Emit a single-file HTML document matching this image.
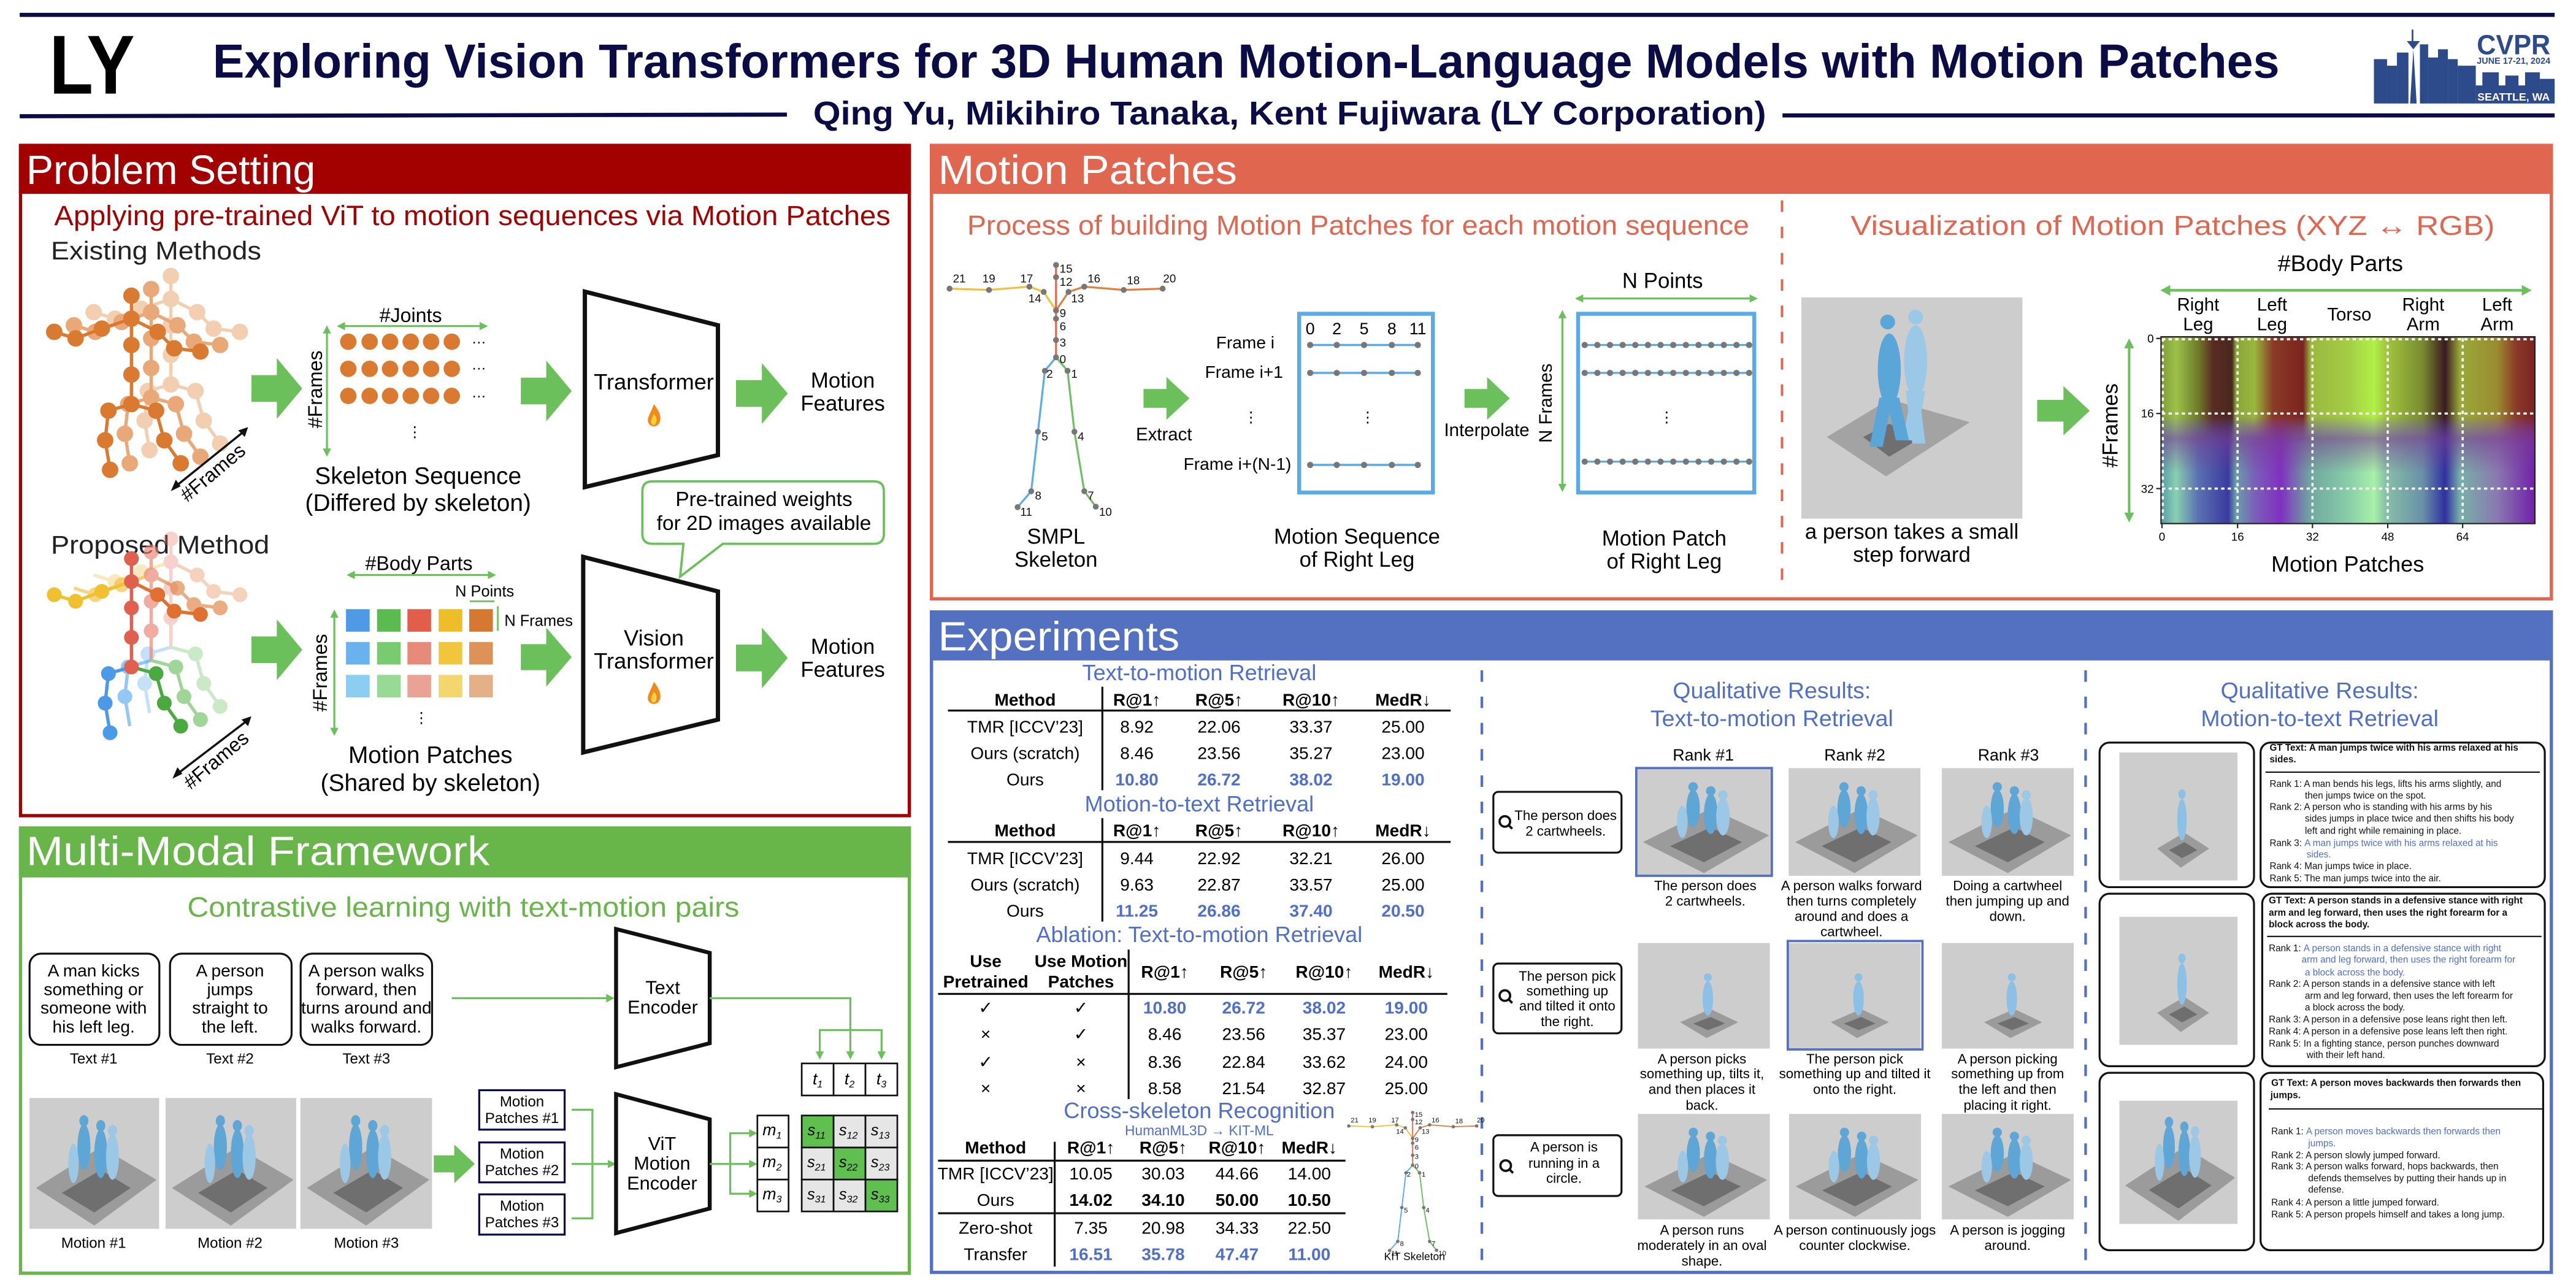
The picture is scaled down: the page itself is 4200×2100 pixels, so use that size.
<!DOCTYPE html>
<html><head><meta charset="utf-8"><style>html,body{margin:0;padding:0;background:#fff}svg{display:block}text{font-family:"Liberation Sans",sans-serif}</style></head><body>
<svg xmlns="http://www.w3.org/2000/svg" width="4200" height="2100" viewBox="0 0 1568 784">
<defs>
<symbol id="ga" viewBox="0 0 100 100" preserveAspectRatio="none"><polygon points="0,28 50,28 50,0 100,50 50,100 50,72 0,72" fill="#6cc05c"/></symbol>
<symbol id="scene" viewBox="0 0 100 80" preserveAspectRatio="none">
<rect width="100" height="80" fill="#cdcdcd"/>
<polygon points="5,55 55,30 98,50 50,78" fill="#9b9b9b"/>
<polygon points="25,58 55,44 78,55 50,70" fill="#6f6f6f"/>
<g fill="#5ea6d6"><ellipse cx="42" cy="30" rx="5" ry="14"/><circle cx="42" cy="14" r="3.5"/><ellipse cx="55" cy="34" rx="5" ry="15"/><circle cx="55" cy="17" r="3.5"/></g>
<g fill="#9cc8e6"><ellipse cx="64" cy="36" rx="5" ry="14"/><circle cx="64" cy="20" r="3.5"/><ellipse cx="34" cy="40" rx="4" ry="12"/></g>
</symbol>
<symbol id="scene2" viewBox="0 0 100 80" preserveAspectRatio="none">
<rect width="100" height="80" fill="#cdcdcd"/>
<polygon points="32,60 55,50 76,60 52,72" fill="#9b9b9b"/>
<polygon points="42,61 55,56 66,61 53,66" fill="#6f6f6f"/>
<g fill="#8cc0e4"><ellipse cx="53" cy="42" rx="4" ry="13"/><circle cx="53" cy="26" r="3"/></g>
</symbol>
<linearGradient id="hTop" x1="0" x2="1" y1="0" y2="0">
<stop offset="0" stop-color="#7f9a3a"/><stop offset=".04" stop-color="#9cc24a"/><stop offset=".1" stop-color="#6f7a2a"/><stop offset=".14" stop-color="#5a2a22"/><stop offset=".19" stop-color="#4a2820"/><stop offset=".2" stop-color="#8aa43a"/><stop offset=".25" stop-color="#9ab83e"/><stop offset=".3" stop-color="#8a3a26"/><stop offset=".38" stop-color="#7a2420"/><stop offset=".4" stop-color="#9ab840"/><stop offset=".5" stop-color="#a4cc44"/><stop offset=".57" stop-color="#b0f048"/><stop offset=".6" stop-color="#a2c840"/><stop offset=".7" stop-color="#7a8a30"/><stop offset=".76" stop-color="#3a1a22"/><stop offset=".8" stop-color="#9aaa38"/><stop offset=".9" stop-color="#9a8a30"/><stop offset=".95" stop-color="#8a3a28"/><stop offset="1" stop-color="#7a2222"/>
</linearGradient>
<linearGradient id="hBot" x1="0" x2="1" y1="0" y2="0">
<stop offset="0" stop-color="#5a9aa8"/><stop offset=".04" stop-color="#88d0b0"/><stop offset=".1" stop-color="#5a70b0"/><stop offset=".18" stop-color="#3a3aa0"/><stop offset=".2" stop-color="#6aa0a8"/><stop offset=".25" stop-color="#7a60b8"/><stop offset=".32" stop-color="#8030c0"/><stop offset=".4" stop-color="#70a8a0"/><stop offset=".5" stop-color="#88cca8"/><stop offset=".57" stop-color="#a8f0a8"/><stop offset=".6" stop-color="#88c0a8"/><stop offset=".7" stop-color="#6a90a8"/><stop offset=".76" stop-color="#3030a0"/><stop offset=".8" stop-color="#78b0a8"/><stop offset=".9" stop-color="#8a78b0"/><stop offset="1" stop-color="#7020a8"/>
</linearGradient>
<linearGradient id="band" x1="0" x2="0" y1="0" y2="1"><stop offset="0" stop-color="#7a3a90" stop-opacity="0"/><stop offset=".4" stop-color="#7a3a90" stop-opacity=".6"/><stop offset="1" stop-color="#7a3a90" stop-opacity="0"/></linearGradient>
<linearGradient id="fade" x1="0" x2="0" y1="0" y2="1"><stop offset="0" stop-color="#fff"/><stop offset=".75" stop-color="#fff"/><stop offset="1" stop-color="#000"/></linearGradient>
<mask id="topmask" maskUnits="userSpaceOnUse" x="1315" y="205" width="228" height="65"><rect x="1315" y="205" width="228" height="65" fill="url(#fade)"/></mask>
<g id="flame"><path d="M0,-7 C4,-2 5,2 3,5 C1.5,7 -1.5,7 -3,5 C-5,2 -2,-1 0,-7Z" fill="#f08a1c"/><path d="M0,-1 C2,1 2,3 1,5 C0,6 -1,6 -1.5,4.5 C-2,3 -1,1 0,-1Z" fill="#ffd040"/></g>
<g id="osk">
<g stroke-width="2" fill="none">
<polyline points="80,184 80,198 80,214 80,232 80,250"/>
<polyline points="80,198 62,204 46,210 33,206"/>
<polyline points="80,198 96,206 106,216 122,218"/>
<polyline points="80,250 66,254 64,272 67,290"/>
<polyline points="80,250 95,254 100,272 110,286"/>
</g>
<g>
<circle cx="80" cy="184" r="4.5"/><circle cx="80" cy="198" r="4.5"/><circle cx="80" cy="214" r="4.5"/><circle cx="80" cy="232" r="4.5"/><circle cx="80" cy="250" r="4.5"/><circle cx="62" cy="204" r="4.5"/><circle cx="46" cy="210" r="4.5"/><circle cx="33" cy="206" r="4.5"/><circle cx="96" cy="206" r="4.5"/><circle cx="106" cy="216" r="4.5"/><circle cx="122" cy="218" r="4.5"/><circle cx="66" cy="254" r="4.5"/><circle cx="64" cy="272" r="4.5"/><circle cx="67" cy="290" r="4.5"/><circle cx="95" cy="254" r="4.5"/><circle cx="100" cy="272" r="4.5"/><circle cx="110" cy="286" r="4.5"/>
</g></g>
<g id="smpl">
<g fill="none" stroke-width="1.2">
<polyline points="642.8,161.3 642.8,168.7 642.8,189 642.8,194 642.8,207 642.8,217.5" stroke="#e06a50"/>
<polyline points="578,175.7 602,176.5 626.6,174.5 635.3,177.7 642.8,189" stroke="#f0c040"/>
<polyline points="707.7,175.7 684,176.5 660,174.5 650.4,177.7 642.8,189" stroke="#e08040"/>
<polyline points="642.8,217.5 636,225.7 631.8,262.8 627.7,299 619.4,308.7" stroke="#5aaaf0"/>
<polyline points="642.8,217.5 649.8,225.7 654,262.8 660,299 667,308.4" stroke="#6cc060"/>
</g>
<g fill="#777"><circle cx="642.8" cy="161.3" r="1.8"/><circle cx="642.8" cy="168.7" r="1.8"/><circle cx="642.8" cy="189" r="1.8"/><circle cx="642.8" cy="194" r="1.8"/><circle cx="642.8" cy="207" r="1.8"/><circle cx="642.8" cy="217.5" r="1.8"/><circle cx="626.6" cy="174.5" r="1.8"/><circle cx="635.3" cy="177.7" r="1.8"/><circle cx="602" cy="176.5" r="1.8"/><circle cx="578" cy="175.7" r="1.8"/><circle cx="650.4" cy="177.7" r="1.8"/><circle cx="660" cy="174.5" r="1.8"/><circle cx="684" cy="176.5" r="1.8"/><circle cx="707.7" cy="175.7" r="1.8"/><circle cx="636" cy="225.7" r="1.8"/><circle cx="631.8" cy="262.8" r="1.8"/><circle cx="627.7" cy="299" r="1.8"/><circle cx="619.4" cy="308.7" r="1.8"/><circle cx="649.8" cy="225.7" r="1.8"/><circle cx="654" cy="262.8" r="1.8"/><circle cx="660" cy="299" r="1.8"/><circle cx="667" cy="308.4" r="1.8"/></g>
<g font-size="7" fill="#111"><text x="645" y="166">15</text><text x="645" y="174">12</text><text x="645" y="193">9</text><text x="645" y="201">6</text><text x="645" y="211">3</text><text x="645" y="221">0</text><text x="621" y="172">17</text><text x="626" y="184">14</text><text x="598" y="172">19</text><text x="580" y="172">21</text><text x="652" y="184">13</text><text x="662" y="172">16</text><text x="686" y="173">18</text><text x="708" y="172">20</text><text x="637" y="230">2</text><text x="652" y="230">1</text><text x="634" y="268">5</text><text x="656" y="268">4</text><text x="630" y="304">8</text><text x="662" y="304">7</text><text x="621" y="314">11</text><text x="669" y="314">10</text></g>
</g>
</defs>

<!-- HEADER -->
<rect x="12" y="7.8" width="1543" height="2.5" fill="#0b0b45"/>
<polygon points="12,69.5 479,68.5 479,71 12,72" fill="#0b0b45"/>
<rect x="1085" y="69" width="470" height="2.5" fill="#0b0b45"/>
<text x="30" y="57" font-size="51" font-weight="bold" textLength="52" lengthAdjust="spacingAndGlyphs">LY</text>
<text x="129.5" y="47.3" font-size="29" font-weight="bold" fill="#0b0b45" textLength="1258" lengthAdjust="spacingAndGlyphs">Exploring Vision Transformers for 3D Human Motion-Language Models with Motion Patches</text>
<text x="495" y="75.8" font-size="20" font-weight="bold" fill="#0b0b45" textLength="580" lengthAdjust="spacingAndGlyphs">Qing Yu, Mikihiro Tanaka, Kent Fujiwara (LY Corporation)</text>
<g fill="#2d4a8a">
<rect x="1445" y="36" width="8" height="27"/><rect x="1453" y="40" width="6" height="23"/><rect x="1459" y="32" width="7" height="31"/>
<polygon points="1467,63 1469,30 1465,25 1473,25 1469,30 1471,63"/><rect x="1468" y="18" width="1" height="8"/>
<rect x="1473" y="27" width="5" height="36"/><rect x="1478" y="35" width="6" height="28"/><rect x="1484" y="30" width="6" height="33"/><rect x="1490" y="36" width="6" height="27"/><rect x="1496" y="40" width="11" height="23"/>
<rect x="1507" y="52" width="48" height="11"/><rect x="1511" y="44" width="10" height="9"/><rect x="1525" y="46" width="8" height="7"/><rect x="1537" y="44" width="9" height="9"/><rect x="1546" y="48" width="9" height="5"/>
</g>
<text x="1507.6" y="33" font-size="17" font-weight="bold" fill="#2d4a8a" textLength="44.8" lengthAdjust="spacingAndGlyphs">CVPR</text>
<text x="1507.6" y="38.8" font-size="5.5" font-weight="bold" fill="#2d4a8a" textLength="44.8" lengthAdjust="spacingAndGlyphs">JUNE 17-21, 2024</text>
<text x="1508" y="61.3" font-size="6.5" font-weight="bold" fill="#fff" textLength="44" lengthAdjust="spacingAndGlyphs">SEATTLE, WA</text>

<!-- PROBLEM SETTING -->
<rect x="12.5" y="88.5" width="541" height="408" fill="#fff" stroke="#a30000" stroke-width="2"/>
<rect x="11.5" y="88" width="543" height="30" fill="#a30000"/>
<text x="16" y="112" font-size="25" fill="#fff" textLength="176" lengthAdjust="spacingAndGlyphs">Problem Setting</text>
<text x="33" y="137" font-size="17" fill="#a30000" textLength="509" lengthAdjust="spacingAndGlyphs">Applying pre-trained ViT to motion sequences via Motion Patches</text>
<text x="31" y="158" font-size="15.5" fill="#222" textLength="128" lengthAdjust="spacingAndGlyphs">Existing Methods</text>
<use href="#osk" transform="translate(24,-16)" fill="#f2cfb0" stroke="#f2cfb0"/>
<use href="#osk" transform="translate(12,-8)" fill="#e8a878" stroke="#e8a878"/>
<use href="#osk" transform="translate(0,-4)" fill="#d97a30" stroke="#d97a30"/>
<line x1="107" y1="296" x2="148" y2="263" stroke="#111" stroke-width="1.3"/>
<polygon points="104,299 107,292 110,296" fill="#111"/><polygon points="151,260 145,262 149,266" fill="#111"/>
<text transform="translate(114,306) rotate(-40)" font-size="12">#Frames</text>
<use href="#ga" x="153" y="218" width="31" height="37"/>
<text transform="translate(196,237) rotate(-90)" font-size="12" text-anchor="middle">#Frames</text>
<line x1="199" y1="200" x2="199" y2="276" stroke="#6cc05c" stroke-width="1.2"/>
<polygon points="199,198 196.5,203 201.5,203" fill="#6cc05c"/><polygon points="199,278 196.5,273 201.5,273" fill="#6cc05c"/>
<text x="250" y="196" font-size="12" text-anchor="middle">#Joints</text>
<line x1="207" y1="198.5" x2="295" y2="198.5" stroke="#6cc05c" stroke-width="1.2"/>
<polygon points="205,198.5 210,196 210,201" fill="#6cc05c"/><polygon points="297,198.5 292,196 292,201" fill="#6cc05c"/>
<g fill="#d97a30">
<circle cx="212" cy="208" r="5"/><circle cx="225" cy="208" r="5"/><circle cx="237.4" cy="208" r="5"/><circle cx="250" cy="208" r="5"/><circle cx="262.4" cy="208" r="5"/><circle cx="275" cy="208" r="5"/>
<circle cx="212" cy="224.5" r="5"/><circle cx="225" cy="224.5" r="5"/><circle cx="237.4" cy="224.5" r="5"/><circle cx="250" cy="224.5" r="5"/><circle cx="262.4" cy="224.5" r="5"/><circle cx="275" cy="224.5" r="5"/>
<circle cx="212" cy="241" r="5"/><circle cx="225" cy="241" r="5"/><circle cx="237.4" cy="241" r="5"/><circle cx="250" cy="241" r="5"/><circle cx="262.4" cy="241" r="5"/><circle cx="275" cy="241" r="5"/>
</g>
<g font-size="9"><text x="287" y="209">…</text><text x="287" y="225">…</text><text x="287" y="242">…</text><text x="248" y="266">⋮</text></g>
<text x="254.5" y="294.5" font-size="14.5" text-anchor="middle">Skeleton Sequence</text>
<text x="254.5" y="311" font-size="14.5" text-anchor="middle">(Differed by skeleton)</text>
<use href="#ga" x="317" y="219.5" width="31" height="37"/>
<polygon points="356,177.5 437,198 437,277 356,296.5" fill="#fff" stroke="#111" stroke-width="2.6"/>
<text x="398" y="237" font-size="13.5" text-anchor="middle">Transformer</text>
<use href="#flame" transform="translate(398,253)"/>
<use href="#ga" x="448" y="221" width="31.5" height="37"/>
<text x="513" y="236" font-size="13" text-anchor="middle">Motion</text>
<text x="513" y="250" font-size="13" text-anchor="middle">Features</text>
<path d="M398,293 H532 Q538,293 538,299 V325 Q538,331 532,331 H440 L414,351 L416,331 H397 Q391,331 391,325 V299 Q391,293 397,293Z" fill="#fff" stroke="#6cc05c" stroke-width="1.4"/>
<text x="465" y="308" font-size="12.5" text-anchor="middle">Pre-trained weights</text>
<text x="465" y="322.5" font-size="12.5" text-anchor="middle">for 2D images available</text>
<text x="31" y="337" font-size="15.5" fill="#222" textLength="133" lengthAdjust="spacingAndGlyphs">Proposed Method</text>
<g transform="translate(0,160)">
<g opacity=".35">
<g transform="translate(24,-16)" stroke-width="2" fill="none"><polyline points="80,184 80,198 80,214 80,232 80,250" stroke="#e98070"/><polyline points="80,198 62,204 46,210 33,206" stroke="#f0c040"/><polyline points="80,198 96,206 106,216 122,218" stroke="#e08040"/><polyline points="80,250 66,254 64,272 67,290" stroke="#5aaaf0"/><polyline points="80,250 95,254 100,272 110,286" stroke="#6cc060"/></g>
<g transform="translate(24,-16)"><circle cx="80" cy="184" r="4.5" fill="#e98070"/><circle cx="80" cy="198" r="4.5" fill="#e98070"/><circle cx="80" cy="214" r="4.5" fill="#e98070"/><circle cx="80" cy="232" r="4.5" fill="#e98070"/><circle cx="62" cy="204" r="4.5" fill="#f0c040"/><circle cx="46" cy="210" r="4.5" fill="#f0c040"/><circle cx="96" cy="206" r="4.5" fill="#e08040"/><circle cx="106" cy="216" r="4.5" fill="#e08040"/><circle cx="122" cy="218" r="4.5" fill="#e08040"/><circle cx="66" cy="254" r="4.5" fill="#5aaaf0"/><circle cx="64" cy="272" r="4.5" fill="#5aaaf0"/><circle cx="95" cy="254" r="4.5" fill="#6cc060"/><circle cx="100" cy="272" r="4.5" fill="#6cc060"/><circle cx="110" cy="286" r="4.5" fill="#6cc060"/></g>
</g>
<g opacity=".65" transform="translate(12,-8)">
<g stroke-width="2" fill="none"><polyline points="80,184 80,198 80,214 80,232 80,250" stroke="#e98070"/><polyline points="80,198 62,204 46,210 33,206" stroke="#f0c040"/><polyline points="80,198 96,206 106,216 122,218" stroke="#e08040"/><polyline points="80,250 66,254 64,272 67,290" stroke="#5aaaf0"/><polyline points="80,250 95,254 100,272 110,286" stroke="#6cc060"/></g>
<circle cx="80" cy="184" r="4.5" fill="#e98070"/><circle cx="80" cy="198" r="4.5" fill="#e98070"/><circle cx="80" cy="214" r="4.5" fill="#e98070"/><circle cx="80" cy="232" r="4.5" fill="#e98070"/><circle cx="62" cy="204" r="4.5" fill="#f0c040"/><circle cx="46" cy="210" r="4.5" fill="#f0c040"/><circle cx="96" cy="206" r="4.5" fill="#e08040"/><circle cx="106" cy="216" r="4.5" fill="#e08040"/><circle cx="122" cy="218" r="4.5" fill="#e08040"/><circle cx="66" cy="254" r="4.5" fill="#5aaaf0"/><circle cx="64" cy="272" r="4.5" fill="#5aaaf0"/><circle cx="95" cy="254" r="4.5" fill="#6cc060"/><circle cx="100" cy="272" r="4.5" fill="#6cc060"/><circle cx="110" cy="286" r="4.5" fill="#6cc060"/>
</g>
<g transform="translate(0,-4)">
<g stroke-width="2" fill="none"><polyline points="80,184 80,198 80,214 80,232 80,250" stroke="#e06050"/><polyline points="80,198 62,204 46,210 33,206" stroke="#f0c030"/><polyline points="80,198 96,206 106,216 122,218" stroke="#e07030"/><polyline points="80,250 66,254 64,272 67,290" stroke="#4a9ae8"/><polyline points="80,250 95,254 100,272 110,286" stroke="#4aaa40"/></g>
<circle cx="80" cy="184" r="4.5" fill="#e06050"/><circle cx="80" cy="198" r="4.5" fill="#e06050"/><circle cx="80" cy="214" r="4.5" fill="#e06050"/><circle cx="80" cy="232" r="4.5" fill="#e06050"/><circle cx="80" cy="250" r="4.5" fill="#e06050"/><circle cx="62" cy="204" r="4.5" fill="#f0c030"/><circle cx="46" cy="210" r="4.5" fill="#f0c030"/><circle cx="33" cy="206" r="4.5" fill="#f0c030"/><circle cx="96" cy="206" r="4.5" fill="#e07030"/><circle cx="106" cy="216" r="4.5" fill="#e07030"/><circle cx="122" cy="218" r="4.5" fill="#e07030"/><circle cx="66" cy="254" r="4.5" fill="#4a9ae8"/><circle cx="64" cy="272" r="4.5" fill="#4a9ae8"/><circle cx="67" cy="290" r="4.5" fill="#4a9ae8"/><circle cx="95" cy="254" r="4.5" fill="#4aaa40"/><circle cx="100" cy="272" r="4.5" fill="#4aaa40"/><circle cx="110" cy="286" r="4.5" fill="#4aaa40"/>
</g>
</g>
<line x1="108" y1="471" x2="150" y2="439" stroke="#111" stroke-width="1.3"/>
<polygon points="105,474 108,467 111,471" fill="#111"/><polygon points="153,436 147,438 151,442" fill="#111"/>
<text transform="translate(116,481) rotate(-40)" font-size="12">#Frames</text>
<use href="#ga" x="153" y="377" width="31" height="37"/>
<text x="255" y="347" font-size="12" text-anchor="middle">#Body Parts</text>
<line x1="213" y1="350" x2="300" y2="350" stroke="#6cc05c" stroke-width="1.2"/>
<polygon points="211,350 216,347.5 216,352.5" fill="#6cc05c"/><polygon points="302,350 297,347.5 297,352.5" fill="#6cc05c"/>
<text x="295" y="363" font-size="9.5" text-anchor="middle">N Points</text>
<line x1="286" y1="366" x2="301" y2="366" stroke="#6cc05c" stroke-width="1"/>
<line x1="303" y1="369" x2="303" y2="384" stroke="#6cc05c" stroke-width="1"/>
<text x="307" y="381" font-size="9.5">N Frames</text>
<g>
<rect x="210.6" y="370.8" width="14.4" height="13.7" fill="#4f9ae6"/><rect x="229.5" y="370.8" width="14.4" height="13.7" fill="#5cbb50"/><rect x="248" y="370.8" width="14.4" height="13.7" fill="#e05e4a"/><rect x="267" y="370.8" width="14.4" height="13.7" fill="#efbd2a"/><rect x="285.6" y="370.8" width="14.4" height="13.7" fill="#d6782f"/>
<rect x="210.6" y="390.8" width="14.4" height="13.7" fill="#6ab2ee"/><rect x="229.5" y="390.8" width="14.4" height="13.7" fill="#78cb6e"/><rect x="248" y="390.8" width="14.4" height="13.7" fill="#e78a7a"/><rect x="267" y="390.8" width="14.4" height="13.7" fill="#f1c63c"/><rect x="285.6" y="390.8" width="14.4" height="13.7" fill="#df9258"/>
<rect x="210.6" y="410.8" width="14.4" height="13.7" fill="#8ccdf2"/><rect x="229.5" y="410.8" width="14.4" height="13.7" fill="#97da95"/><rect x="248" y="410.8" width="14.4" height="13.7" fill="#eba296"/><rect x="267" y="410.8" width="14.4" height="13.7" fill="#f3d66e"/><rect x="285.6" y="410.8" width="14.4" height="13.7" fill="#e3b088"/>
</g>
<text transform="translate(199,409.5) rotate(-90)" font-size="12" text-anchor="middle">#Frames</text>
<line x1="203.5" y1="373" x2="203.5" y2="446" stroke="#6cc05c" stroke-width="1.2"/>
<polygon points="203.5,371 201,376 206,376" fill="#6cc05c"/><polygon points="203.5,448 201,443 206,443" fill="#6cc05c"/>
<text x="252" y="440" font-size="9">⋮</text>
<text x="262" y="464.5" font-size="14.5" text-anchor="middle">Motion Patches</text>
<text x="262" y="481.5" font-size="14.5" text-anchor="middle">(Shared by skeleton)</text>
<use href="#ga" x="317" y="382" width="31" height="36"/>
<polygon points="355,339 437,360 437,438 355,458" fill="#fff" stroke="#111" stroke-width="2.6"/>
<text x="398" y="393" font-size="13.5" text-anchor="middle">Vision</text>
<text x="398" y="407" font-size="13.5" text-anchor="middle">Transformer</text>
<use href="#flame" transform="translate(398,422)"/>
<use href="#ga" x="448" y="382" width="31.5" height="37"/>
<text x="513" y="398" font-size="13" text-anchor="middle">Motion</text>
<text x="513" y="412" font-size="13" text-anchor="middle">Features</text>

<!-- MULTI-MODAL -->
<rect x="12.5" y="504" width="541" height="271" fill="#fff" stroke="#68b54a" stroke-width="2"/>
<rect x="11.5" y="503.5" width="543" height="30.6" fill="#68b54a"/>
<text x="16" y="526.5" font-size="25" fill="#fff" textLength="282" lengthAdjust="spacingAndGlyphs">Multi-Modal Framework</text>
<text x="282" y="558" font-size="17" fill="#68b54a" text-anchor="middle" textLength="336" lengthAdjust="spacingAndGlyphs">Contrastive learning with text-motion pairs</text>
<g fill="#fff" stroke="#111" stroke-width="1.2">
<rect x="18" y="580.5" width="79" height="55.5" rx="7"/><rect x="103.5" y="580.5" width="74" height="55.5" rx="7"/><rect x="183" y="580.5" width="80" height="55.5" rx="7"/>
</g>
<g font-size="10.5" text-anchor="middle">
<text x="57" y="594.4">A man kicks</text><text x="57" y="605.8">something or</text><text x="57" y="617">someone with</text><text x="57" y="628.5">his left leg.</text>
<text x="140" y="594.4">A person</text><text x="140" y="605.8">jumps</text><text x="140" y="617">straight to</text><text x="140" y="628.5">the left.</text>
<text x="223" y="594.4">A person walks</text><text x="223" y="605.8">forward, then</text><text x="223" y="617">turns around and</text><text x="223" y="628.5">walks forward.</text>
<text x="57" y="647.3" font-size="9">Text #1</text><text x="140" y="647.3" font-size="9">Text #2</text><text x="223" y="647.3" font-size="9">Text #3</text>
</g>
<line x1="275" y1="607.6" x2="370" y2="607.6" stroke="#6cc05c" stroke-width="1.2"/>
<polygon points="374,607.6 369,605 369,610.2" fill="#6cc05c"/>
<polygon points="375,565.5 432,580 432,635 375,649.6" fill="#fff" stroke="#111" stroke-width="2.4"/>
<text x="403.4" y="605" font-size="11.5" text-anchor="middle">Text</text>
<text x="403.4" y="617" font-size="11.5" text-anchor="middle">Encoder</text>
<polyline points="432,607.6 517.6,607.6 517.6,627" fill="none" stroke="#6cc05c" stroke-width="1.2"/>
<polyline points="499,641 499,627 536.6,627 536.6,641" fill="none" stroke="#6cc05c" stroke-width="1.2"/>
<line x1="517.6" y1="627" x2="517.6" y2="641" stroke="#6cc05c" stroke-width="1.2"/>
<g fill="#6cc05c"><polygon points="499,645 496.5,640 501.5,640"/><polygon points="517.6,645 515.1,640 520.1,640"/><polygon points="536.6,645 534.1,640 539.1,640"/></g>
<g fill="#fff" stroke="#111" stroke-width="1"><rect x="488" y="647.3" width="19.4" height="19.5"/><rect x="507.4" y="647.3" width="19.4" height="19.5"/><rect x="526.8" y="647.3" width="19.4" height="19.5"/></g>
<g font-family="Liberation Serif" font-style="italic" font-size="10" text-anchor="middle"><text x="497.7" y="660">t<tspan font-size="6" dy="2">1</tspan></text><text x="517.1" y="660">t<tspan font-size="6" dy="2">2</tspan></text><text x="536.5" y="660">t<tspan font-size="6" dy="2">3</tspan></text></g>
<use href="#scene" x="17.9" y="668.3" width="79" height="79.7"/>
<use href="#scene" x="100.7" y="668.3" width="79.6" height="79.7"/>
<use href="#scene" x="182.8" y="668.3" width="80.2" height="79.7"/>
<g font-size="9" text-anchor="middle"><text x="57" y="759.5">Motion #1</text><text x="140" y="759.5">Motion #2</text><text x="223" y="759.5">Motion #3</text></g>
<use href="#ga" x="264" y="696.7" width="25" height="23.5"/>
<g fill="#fff" stroke="#0b0b45" stroke-width="1.2"><rect x="291.7" y="663.6" width="52" height="24"/><rect x="291.7" y="695.4" width="52" height="24.3"/><rect x="291.7" y="727" width="52" height="24.5"/></g>
<g font-size="9" text-anchor="middle"><text x="317.7" y="673.5">Motion</text><text x="317.7" y="683.5">Patches #1</text><text x="317.7" y="705.3">Motion</text><text x="317.7" y="715.3">Patches #2</text><text x="317.7" y="737">Motion</text><text x="317.7" y="747">Patches #3</text></g>
<polyline points="348,675.5 360.6,675.5 360.6,741.6 348,741.6" fill="none" stroke="#6cc05c" stroke-width="1.2"/>
<line x1="348" y1="708.5" x2="371" y2="708.5" stroke="#6cc05c" stroke-width="1.2"/>
<polygon points="375,708.5 370,706 370,711" fill="#6cc05c"/>
<polygon points="375,666 432,681.3 432,735.6 375,750.6" fill="#fff" stroke="#111" stroke-width="2.4"/>
<text x="403" y="700" font-size="11.5" text-anchor="middle">ViT</text>
<text x="403" y="712" font-size="11.5" text-anchor="middle">Motion</text>
<text x="403" y="724" font-size="11.5" text-anchor="middle">Encoder</text>
<polyline points="432,708.5 444.5,708.5" stroke="#6cc05c" stroke-width="1.2"/>
<polyline points="457,689.8 444.5,689.8 444.5,726.6 457,726.6" fill="none" stroke="#6cc05c" stroke-width="1.2"/>
<line x1="444.5" y1="708.5" x2="457" y2="708.5" stroke="#6cc05c" stroke-width="1.2"/>
<g fill="#6cc05c"><polygon points="461,689.8 456,687.3 456,692.3"/><polygon points="461,708.5 456,706 456,711"/><polygon points="461,726.6 456,724.1 456,729.1"/></g>
<g fill="#fff" stroke="#111" stroke-width="1"><rect x="461" y="679" width="19" height="19.5"/><rect x="461" y="698.5" width="19" height="19.5"/><rect x="461" y="718" width="19" height="19.4"/></g>
<g font-family="Liberation Serif" font-style="italic" font-size="10" text-anchor="middle"><text x="470" y="691">m<tspan font-size="6" dy="2">1</tspan></text><text x="470" y="710.5">m<tspan font-size="6" dy="2">2</tspan></text><text x="470" y="730">m<tspan font-size="6" dy="2">3</tspan></text></g>
<g stroke="#111" stroke-width="1">
<rect x="488" y="679" width="19.4" height="19.5" fill="#5fbf4f"/><rect x="507.4" y="679" width="19.4" height="19.5" fill="#e6e6e6"/><rect x="526.8" y="679" width="19.4" height="19.5" fill="#e6e6e6"/>
<rect x="488" y="698.5" width="19.4" height="19.5" fill="#e6e6e6"/><rect x="507.4" y="698.5" width="19.4" height="19.5" fill="#5fbf4f"/><rect x="526.8" y="698.5" width="19.4" height="19.5" fill="#e6e6e6"/>
<rect x="488" y="718" width="19.4" height="19.4" fill="#e6e6e6"/><rect x="507.4" y="718" width="19.4" height="19.4" fill="#e6e6e6"/><rect x="526.8" y="718" width="19.4" height="19.4" fill="#5fbf4f"/>
</g>
<g font-family="Liberation Serif" font-style="italic" font-size="9.5" text-anchor="middle">
<text x="497" y="691">s<tspan font-size="6" dy="2">11</tspan></text><text x="516.4" y="691">s<tspan font-size="6" dy="2">12</tspan></text><text x="535.8" y="691">s<tspan font-size="6" dy="2">13</tspan></text>
<text x="497" y="710.5">s<tspan font-size="6" dy="2">21</tspan></text><text x="516.4" y="710.5">s<tspan font-size="6" dy="2">22</tspan></text><text x="535.8" y="710.5">s<tspan font-size="6" dy="2">23</tspan></text>
<text x="497" y="730">s<tspan font-size="6" dy="2">31</tspan></text><text x="516.4" y="730">s<tspan font-size="6" dy="2">32</tspan></text><text x="535.8" y="730">s<tspan font-size="6" dy="2">33</tspan></text>
</g>

<!-- MOTION PATCHES -->
<rect x="567" y="88.5" width="986" height="276" fill="#fff" stroke="#e0664f" stroke-width="2"/>
<rect x="566" y="88" width="988" height="30" fill="#e0664f"/>
<text x="571" y="112" font-size="25" fill="#fff" textLength="182" lengthAdjust="spacingAndGlyphs">Motion Patches</text>
<text x="588.7" y="142.8" font-size="16.5" fill="#e0664f" textLength="476" lengthAdjust="spacingAndGlyphs">Process of building Motion Patches for each motion sequence</text>
<line x1="1084.7" y1="122" x2="1084.7" y2="360" stroke="#e0664f" stroke-width="1.5" stroke-dasharray="7 9"/>
<text x="1322.5" y="143" font-size="16.5" fill="#e0664f" text-anchor="middle" textLength="392" lengthAdjust="spacingAndGlyphs">Visualization of Motion Patches (XYZ ↔ RGB)</text>
<use href="#smpl"/>
<text x="642.8" y="331" font-size="13" text-anchor="middle">SMPL</text>
<text x="642.8" y="345" font-size="13" text-anchor="middle">Skeleton</text>
<use href="#ga" x="696" y="229.5" width="28" height="26"/>
<text x="708.5" y="268" font-size="11" text-anchor="middle">Extract</text>
<g font-size="10.5" text-anchor="end"><text x="775.8" y="212">Frame i</text><text x="781" y="230">Frame i+1</text><text x="786" y="286">Frame i+(N-1)</text></g>
<text x="757" y="257" font-size="9">⋮</text>
<rect x="790.8" y="191" width="81.4" height="108.8" fill="#fff" stroke="#5aaae6" stroke-width="2.4"/>
<g font-size="10" text-anchor="middle"><text x="797.5" y="203.4">0</text><text x="813.7" y="203.4">2</text><text x="830.3" y="203.4">5</text><text x="847.2" y="203.4">8</text><text x="863" y="203.4">11</text></g>
<g stroke="#5aaae6" stroke-width="1.3"><line x1="797.5" y1="210" x2="863" y2="210"/><line x1="797.5" y1="227" x2="863" y2="227"/><line x1="797.5" y1="283" x2="863" y2="283"/></g>
<g fill="#777">
<circle cx="797.5" cy="210" r="1.9"/><circle cx="813.7" cy="210" r="1.9"/><circle cx="830.3" cy="210" r="1.9"/><circle cx="847.2" cy="210" r="1.9"/><circle cx="863" cy="210" r="1.9"/>
<circle cx="797.5" cy="227" r="1.9"/><circle cx="813.7" cy="227" r="1.9"/><circle cx="830.3" cy="227" r="1.9"/><circle cx="847.2" cy="227" r="1.9"/><circle cx="863" cy="227" r="1.9"/>
<circle cx="797.5" cy="283" r="1.9"/><circle cx="813.7" cy="283" r="1.9"/><circle cx="830.3" cy="283" r="1.9"/><circle cx="847.2" cy="283" r="1.9"/><circle cx="863" cy="283" r="1.9"/>
</g>
<text x="828" y="257" font-size="9">⋮</text>
<text x="826" y="331" font-size="13" text-anchor="middle">Motion Sequence</text>
<text x="826" y="345" font-size="13" text-anchor="middle">of Right Leg</text>
<use href="#ga" x="891.4" y="229.5" width="27.6" height="26"/>
<text x="905" y="265.4" font-size="11" text-anchor="middle">Interpolate</text>
<text transform="translate(944.5,245.4) rotate(-90)" font-size="11" text-anchor="middle">N Frames</text>
<line x1="951" y1="191" x2="951" y2="297" stroke="#6cc05c" stroke-width="1.2"/>
<polygon points="951,188.7 948.5,193.7 953.5,193.7" fill="#6cc05c"/><polygon points="951,299.5 948.5,294.5 953.5,294.5" fill="#6cc05c"/>
<text x="1012" y="175.3" font-size="13" text-anchor="middle">N Points</text>
<line x1="961" y1="181.7" x2="1068" y2="181.7" stroke="#6cc05c" stroke-width="1.2"/>
<polygon points="958.7,181.7 963.7,179.2 963.7,184.2" fill="#6cc05c"/><polygon points="1070,181.7 1065,179.2 1065,184.2" fill="#6cc05c"/>
<rect x="960.6" y="191" width="107.2" height="108.8" fill="#fff" stroke="#5aaae6" stroke-width="2.4"/>
<g stroke="#5aaae6" stroke-width="1.2"><line x1="964.6" y1="210" x2="1064.7" y2="210"/><line x1="964.6" y1="227" x2="1064.7" y2="227"/><line x1="964.6" y1="281" x2="1064.7" y2="281"/></g>
<g fill="#777" id="drow">
<circle cx="964.6" cy="210" r="1.9"/><circle cx="972.3" cy="210" r="1.9"/><circle cx="980" cy="210" r="1.9"/><circle cx="987.7" cy="210" r="1.9"/><circle cx="995.4" cy="210" r="1.9"/><circle cx="1003.1" cy="210" r="1.9"/><circle cx="1010.8" cy="210" r="1.9"/><circle cx="1018.5" cy="210" r="1.9"/><circle cx="1026.2" cy="210" r="1.9"/><circle cx="1033.9" cy="210" r="1.9"/><circle cx="1041.6" cy="210" r="1.9"/><circle cx="1049.3" cy="210" r="1.9"/><circle cx="1057" cy="210" r="1.9"/><circle cx="1064.7" cy="210" r="1.9"/>
</g>
<use href="#drow" y="17"/><use href="#drow" y="71"/>
<text x="1010" y="257" font-size="9">⋮</text>
<text x="1013" y="332" font-size="13" text-anchor="middle">Motion Patch</text>
<text x="1013" y="346" font-size="13" text-anchor="middle">of Right Leg</text>
<rect x="1096.5" y="181" width="134.5" height="134.7" fill="#cdcdcd"/>
<polygon points="1112,266 1150,243 1199,257 1148,290" fill="#a3a3a3"/>
<polygon points="1134,266 1150,258 1170,266 1150,278" fill="#6f6f6f"/>
<g fill="#9cc8e8"><ellipse cx="1166" cy="220" rx="7" ry="22"/><circle cx="1166" cy="193" r="4.5"/><polygon points="1160,238 1168,238 1172,270 1164,270"/><polygon points="1164,238 1172,238 1166,268 1158,268"/></g>
<g fill="#5aa6d8"><ellipse cx="1150" cy="225" rx="7" ry="22"/><circle cx="1149" cy="196" r="4.5"/><polygon points="1144,242 1152,242 1146,272 1138,272"/><polygon points="1148,242 1156,242 1162,268 1154,268"/></g>
<text x="1163.7" y="328" font-size="13" text-anchor="middle">a person takes a small</text>
<text x="1163.7" y="342" font-size="13" text-anchor="middle">step forward</text>
<use href="#ga" x="1240" y="235" width="32" height="30"/>
<text x="1424.6" y="165" font-size="14" text-anchor="middle">#Body Parts</text>
<line x1="1318" y1="176.7" x2="1538" y2="176.7" stroke="#6cc05c" stroke-width="1.6"/>
<polygon points="1315,176.7 1321,173.5 1321,180" fill="#6cc05c"/><polygon points="1541,176.7 1535,173.5 1535,180" fill="#6cc05c"/>
<g font-size="11" text-anchor="middle">
<text x="1338" y="189">Right</text><text x="1338" y="201">Leg</text><text x="1383" y="189">Left</text><text x="1383" y="201">Leg</text><text x="1430" y="195">Torso</text><text x="1475" y="189">Right</text><text x="1475" y="201">Arm</text><text x="1520" y="189">Left</text><text x="1520" y="201">Arm</text>
</g>
<rect x="1315.4" y="205" width="227.6" height="113.7" fill="url(#hBot)"/>
<rect x="1315.4" y="205" width="227.6" height="65" fill="url(#hTop)" mask="url(#topmask)"/>
<rect x="1315.4" y="253" width="227.6" height="35" fill="url(#band)"/>
<rect x="1315.4" y="205" width="227.6" height="113.7" fill="none" stroke="#222" stroke-width=".8"/>
<g stroke="#fff" stroke-width="1.3" stroke-dasharray="2 2" fill="none">
<line x1="1316.5" y1="206" x2="1316.5" y2="318"/><line x1="1362" y1="206" x2="1362" y2="318"/><line x1="1407.6" y1="206" x2="1407.6" y2="318"/><line x1="1453.4" y1="206" x2="1453.4" y2="318"/><line x1="1499" y1="206" x2="1499" y2="318"/>
<line x1="1316" y1="206.5" x2="1542" y2="206.5"/><line x1="1316" y1="251.7" x2="1542" y2="251.7"/><line x1="1316" y1="297.4" x2="1542" y2="297.4"/>
</g>
<g stroke="#222" stroke-width=".8"><line x1="1316" y1="318.7" x2="1316" y2="321.5"/><line x1="1362" y1="318.7" x2="1362" y2="321.5"/><line x1="1407.6" y1="318.7" x2="1407.6" y2="321.5"/><line x1="1453.4" y1="318.7" x2="1453.4" y2="321.5"/><line x1="1499" y1="318.7" x2="1499" y2="321.5"/>
<line x1="1312.5" y1="206" x2="1315.4" y2="206"/><line x1="1312.5" y1="251.7" x2="1315.4" y2="251.7"/><line x1="1312.5" y1="297.4" x2="1315.4" y2="297.4"/></g>
<g font-size="7" text-anchor="middle"><text x="1316" y="329">0</text><text x="1362" y="329">16</text><text x="1407.6" y="329">32</text><text x="1453.4" y="329">48</text><text x="1499" y="329">64</text></g>
<g font-size="7" text-anchor="end"><text x="1311" y="208.5">0</text><text x="1311" y="254">16</text><text x="1311" y="300">32</text></g>
<text transform="translate(1289,259) rotate(-90)" font-size="13" text-anchor="middle">#Frames</text>
<line x1="1296" y1="209" x2="1296" y2="315" stroke="#6cc05c" stroke-width="1.5"/>
<polygon points="1296,206 1293,212 1299,212" fill="#6cc05c"/><polygon points="1296,318 1293,312 1299,312" fill="#6cc05c"/>
<text x="1429" y="348" font-size="13.5" text-anchor="middle">Motion Patches</text>

<!-- EXPERIMENTS -->
<rect x="567" y="372.5" width="986" height="402" fill="#fff" stroke="#5470c1" stroke-width="2"/>
<rect x="566" y="372" width="988" height="30" fill="#5470c1"/>
<text x="571" y="396" font-size="25" fill="#fff" textLength="147" lengthAdjust="spacingAndGlyphs">Experiments</text>
<line x1="902" y1="408" x2="902" y2="772" stroke="#5470c1" stroke-width="1.6" stroke-dasharray="7 9"/>
<line x1="1269.5" y1="408" x2="1269.5" y2="772" stroke="#5470c1" stroke-width="1.6" stroke-dasharray="7 9"/>
<g text-anchor="middle">
<text x="730" y="414" font-size="13.5" fill="#4f6fc9">Text-to-motion Retrieval</text>
<g font-size="10.5" font-weight="bold"><text x="624" y="429.5">Method</text><text x="692" y="429.5">R@1↑</text><text x="742" y="429.5">R@5↑</text><text x="798" y="429.5">R@10↑</text><text x="854" y="429.5">MedR↓</text></g>
<g font-size="10.5"><text x="624" y="446">TMR [ICCV’23]</text><text x="692" y="446">8.92</text><text x="742" y="446">22.06</text><text x="798" y="446">33.37</text><text x="854" y="446">25.00</text>
<text x="624" y="462">Ours (scratch)</text><text x="692" y="462">8.46</text><text x="742" y="462">23.56</text><text x="798" y="462">35.27</text><text x="854" y="462">23.00</text>
<text x="624" y="478">Ours</text><g font-weight="bold" fill="#4f6fc9"><text x="692" y="478">10.80</text><text x="742" y="478">26.72</text><text x="798" y="478">38.02</text><text x="854" y="478">19.00</text></g></g>
<text x="730" y="494" font-size="13.5" fill="#4f6fc9">Motion-to-text Retrieval</text>
<g font-size="10.5" font-weight="bold"><text x="624" y="509">Method</text><text x="692" y="509">R@1↑</text><text x="742" y="509">R@5↑</text><text x="798" y="509">R@10↑</text><text x="854" y="509">MedR↓</text></g>
<g font-size="10.5"><text x="624" y="526">TMR [ICCV’23]</text><text x="692" y="526">9.44</text><text x="742" y="526">22.92</text><text x="798" y="526">32.21</text><text x="854" y="526">26.00</text>
<text x="624" y="542">Ours (scratch)</text><text x="692" y="542">9.63</text><text x="742" y="542">22.87</text><text x="798" y="542">33.57</text><text x="854" y="542">25.00</text>
<text x="624" y="558">Ours</text><g font-weight="bold" fill="#4f6fc9"><text x="692" y="558">11.25</text><text x="742" y="558">26.86</text><text x="798" y="558">37.40</text><text x="854" y="558">20.50</text></g></g>
<text x="730" y="573.5" font-size="13.5" fill="#4f6fc9">Ablation: Text-to-motion Retrieval</text>
<g font-size="10.5" font-weight="bold"><text x="600" y="588.5">Use</text><text x="600" y="601">Pretrained</text><text x="658" y="588.5">Use Motion</text><text x="658" y="601">Patches</text>
<text x="709" y="595">R@1↑</text><text x="757" y="595">R@5↑</text><text x="806" y="595">R@10↑</text><text x="856" y="595">MedR↓</text></g>
<g font-size="10.5"><text x="600" y="617">✓</text><text x="658" y="617">✓</text><g font-weight="bold" fill="#4f6fc9"><text x="709" y="617">10.80</text><text x="757" y="617">26.72</text><text x="806" y="617">38.02</text><text x="856" y="617">19.00</text></g>
<text x="600" y="633">×</text><text x="658" y="633">✓</text><text x="709" y="633">8.46</text><text x="757" y="633">23.56</text><text x="806" y="633">35.37</text><text x="856" y="633">23.00</text>
<text x="600" y="650">✓</text><text x="658" y="650">×</text><text x="709" y="650">8.36</text><text x="757" y="650">22.84</text><text x="806" y="650">33.62</text><text x="856" y="650">24.00</text>
<text x="600" y="666">×</text><text x="658" y="666">×</text><text x="709" y="666">8.58</text><text x="757" y="666">21.54</text><text x="806" y="666">32.87</text><text x="856" y="666">25.00</text></g>
<text x="730" y="680.5" font-size="13.5" fill="#4f6fc9">Cross-skeleton Recognition</text>
<text x="730" y="691" font-size="8.5" fill="#4f6fc9">HumanML3D → KIT-ML</text>
<g font-size="10.5" font-weight="bold"><text x="606" y="702">Method</text><text x="664" y="702">R@1↑</text><text x="708" y="702">R@5↑</text><text x="753" y="702">R@10↑</text><text x="797" y="702">MedR↓</text></g>
<g font-size="10.5"><text x="606" y="718">TMR [ICCV’23]</text><text x="664" y="718">10.05</text><text x="708" y="718">30.03</text><text x="753" y="718">44.66</text><text x="797" y="718">14.00</text>
<text x="606" y="734">Ours</text><g font-weight="bold"><text x="664" y="734">14.02</text><text x="708" y="734">34.10</text><text x="753" y="734">50.00</text><text x="797" y="734">10.50</text></g>
<text x="606" y="751">Zero-shot</text><text x="664" y="751">7.35</text><text x="708" y="751">20.98</text><text x="753" y="751">34.33</text><text x="797" y="751">22.50</text>
<text x="606" y="767">Transfer</text><g font-weight="bold" fill="#4f6fc9"><text x="664" y="767">16.51</text><text x="708" y="767">35.78</text><text x="753" y="767">47.47</text><text x="797" y="767">11.00</text></g></g>
</g>
<g stroke="#111" stroke-width="1.2">
<line x1="577" y1="432.5" x2="883" y2="432.5"/><line x1="671" y1="418" x2="671" y2="481"/>
<line x1="577" y1="512.5" x2="883" y2="512.5"/><line x1="671" y1="498" x2="671" y2="561"/>
<line x1="571" y1="605" x2="881" y2="605"/><line x1="687" y1="578" x2="687" y2="669"/>
<line x1="571" y1="706.5" x2="819" y2="706.5"/><line x1="571" y1="738.5" x2="819" y2="738.5"/><line x1="642" y1="695" x2="642" y2="771"/>
</g>
<use href="#smpl" transform="translate(821,677) scale(0.6,0.57) translate(-578,-161)"/>
<text x="861" y="767" font-size="6.5" text-anchor="middle">KIT Skeleton</text>
<text x="1078.5" y="425" font-size="14" fill="#4f6fc9" text-anchor="middle">Qualitative Results:</text>
<text x="1078.5" y="442" font-size="14" fill="#4f6fc9" text-anchor="middle">Text-to-motion Retrieval</text>
<g font-size="10" text-anchor="middle"><text x="1036.8" y="463">Rank #1</text><text x="1129" y="463">Rank #2</text><text x="1222.5" y="463">Rank #3</text></g>
<use href="#scene" x="995.9" y="467.5" width="82.6" height="65.6"/>
<use href="#scene" x="1088.7" y="467.5" width="80.3" height="65.6"/>
<use href="#scene" x="1182" y="467.5" width="80.3" height="65.6"/>
<use href="#scene2" x="997" y="574" width="80.3" height="64.3"/>
<use href="#scene2" x="1088.7" y="574" width="80.3" height="64.3"/>
<use href="#scene2" x="1182" y="574" width="80.3" height="64.3"/>
<use href="#scene" x="997" y="678" width="80.3" height="64.3"/>
<use href="#scene" x="1089" y="678" width="80.3" height="64.3"/>
<use href="#scene" x="1182" y="678" width="80.3" height="64.3"/>
<rect x="996" y="467.5" width="82.5" height="65.6" fill="none" stroke="#5470c1" stroke-width="1.4"/>
<rect x="1088.2" y="572.8" width="82" height="66" fill="none" stroke="#5470c1" stroke-width="1.4"/>
<g font-size="8.3" text-anchor="middle">
<text x="1038" y="541.8">The person does</text><text x="1038" y="551.2">2 cartwheels.</text>
<text x="1127" y="541.8">A person walks forward</text><text x="1127" y="551.2">then turns completely</text><text x="1127" y="560.6">around and does a</text><text x="1127" y="569.8">cartwheel.</text>
<text x="1222" y="541.8">Doing a cartwheel</text><text x="1222" y="551.2">then jumping up and</text><text x="1222" y="560.6">down.</text>
<text x="1036" y="647.3">A person picks</text><text x="1036" y="656.4">something up, tilts it,</text><text x="1036" y="665.8">and then places it</text><text x="1036" y="675.5">back.</text>
<text x="1129" y="647.3">The person pick</text><text x="1129" y="656.4">something up and tilted it</text><text x="1129" y="665.8">onto the right.</text>
<text x="1222" y="647.3">A person picking</text><text x="1222" y="656.4">something up from</text><text x="1222" y="665.8">the left and then</text><text x="1222" y="675.5">placing it right.</text>
<text x="1036" y="751.5">A person runs</text><text x="1036" y="760.9">moderately in an oval</text><text x="1036" y="770.3">shape.</text>
<text x="1129" y="751.5">A person continuously jogs</text><text x="1129" y="760.9">counter clockwise.</text>
<text x="1222" y="751.5">A person is jogging</text><text x="1222" y="760.9">around.</text>
</g>
<g fill="#fff" stroke="#111" stroke-width="1.2"><rect x="909" y="482" width="78" height="37" rx="3"/><rect x="909" y="586.5" width="78" height="42.5" rx="3"/><rect x="909" y="691" width="78" height="37" rx="3"/></g>
<g fill="none" stroke="#111" stroke-width="1.4"><circle cx="916" cy="500" r="3.2"/><line x1="918.3" y1="502.3" x2="920.5" y2="504.5"/><circle cx="916" cy="606" r="3.2"/><line x1="918.3" y1="608.3" x2="920.5" y2="610.5"/><circle cx="916.5" cy="709.5" r="3.2"/><line x1="918.8" y1="711.8" x2="921" y2="714"/></g>
<g font-size="8.3" text-anchor="middle">
<text x="953" y="499.2">The person does</text><text x="953" y="508.6">2 cartwheels.</text>
<text x="954" y="597">The person pick</text><text x="954" y="606">something up</text><text x="954" y="615">and tilted it onto</text><text x="954" y="624.5">the right.</text>
<text x="952" y="701">A person is</text><text x="952" y="710.8">running in a</text><text x="952" y="720">circle.</text>
</g>
<text x="1412" y="425" font-size="14" fill="#4f6fc9" text-anchor="middle">Qualitative Results:</text>
<text x="1412" y="442" font-size="14" fill="#4f6fc9" text-anchor="middle">Motion-to-text Retrieval</text>
<g fill="#fff" stroke="#111" stroke-width="1.2">
<rect x="1278" y="452" width="94" height="88" rx="6"/><rect x="1376" y="452" width="173" height="88" rx="6"/>
<rect x="1278" y="544" width="94" height="105" rx="6"/><rect x="1377" y="544" width="172" height="105" rx="6"/>
<rect x="1278" y="653" width="94" height="108" rx="6"/><rect x="1376" y="653" width="172" height="108" rx="6"/>
</g>
<use href="#scene2" x="1290" y="458" width="72" height="78"/>
<use href="#scene2" x="1290" y="558" width="72" height="78"/>
<use href="#scene" x="1290" y="670" width="72" height="75"/>
<g stroke="#111" stroke-width=".8"><line x1="1379" y1="470" x2="1546" y2="470"/><line x1="1380" y1="570" x2="1547" y2="570"/><line x1="1381" y1="675" x2="1548" y2="675"/></g>
<g font-size="5.7" fill="#111">
<text x="1381.5" y="457" font-weight="bold">GT Text: A man jumps twice with his arms relaxed at his</text><text x="1381.5" y="464" font-weight="bold">sides.</text>
<text x="1381.5" y="479">Rank 1: A man bends his legs, lifts his arms slightly, and</text><text x="1403" y="486">then jumps twice on the spot.</text>
<text x="1381.5" y="493">Rank 2: A person who is standing with his arms by his</text><text x="1403" y="500">sides jumps in place twice and then shifts his body</text><text x="1403" y="507.6">left and right while remaining in place.</text>
<text x="1381.5" y="515">Rank 3: <tspan fill="#4f6fc9">A man jumps twice with his arms relaxed at his</tspan></text><text x="1404" y="522" fill="#4f6fc9">sides.</text>
<text x="1381.5" y="529">Rank 4: Man jumps twice in place.</text><text x="1381.5" y="536.5">Rank 5: The man jumps twice into the air.</text>
<text x="1381" y="550" font-weight="bold">GT Text: A person stands in a defensive stance with right</text><text x="1381" y="557.3" font-weight="bold">arm and leg forward, then uses the right forearm for a</text><text x="1381" y="564.4" font-weight="bold">block across the body.</text>
<text x="1381" y="579">Rank 1: <tspan fill="#4f6fc9">A person stands in a defensive stance with right</tspan></text><text x="1401" y="586" fill="#4f6fc9">arm and leg forward, then uses the right forearm for</text><text x="1403" y="593.7" fill="#4f6fc9">a block across the body.</text>
<text x="1381" y="600.6">Rank 2: A person stands in a defensive stance with left</text><text x="1403" y="608">arm and leg forward, then uses the left forearm for</text><text x="1403" y="615">a block across the body.</text>
<text x="1381" y="622.4">Rank 3: A person in a defensive pose leans right then left.</text><text x="1381" y="629.7">Rank 4: A person in a defensive pose leans left then right.</text><text x="1381" y="637">Rank 5: In a fighting stance, person punches downward</text><text x="1404" y="644">with their left hand.</text>
<text x="1382.5" y="661" font-weight="bold">GT Text: A person moves backwards then forwards then</text><text x="1382" y="668.5" font-weight="bold">jumps.</text>
<text x="1382.5" y="690.4">Rank 1: <tspan fill="#4f6fc9">A person moves backwards then forwards then</tspan></text><text x="1405" y="697.7" fill="#4f6fc9">jumps.</text>
<text x="1382.5" y="705">Rank 2: A person slowly jumped forward.</text><text x="1382.5" y="711.8">Rank 3: A person walks forward, hops backwards, then</text><text x="1405" y="719">defends themselves by putting their hands up in</text><text x="1405" y="726">defense.</text>
<text x="1382.5" y="733.7">Rank 4: A person a little jumped forward.</text><text x="1382.5" y="741">Rank 5: A person propels himself and takes a long jump.</text>
</g>
</svg>
</body></html>
